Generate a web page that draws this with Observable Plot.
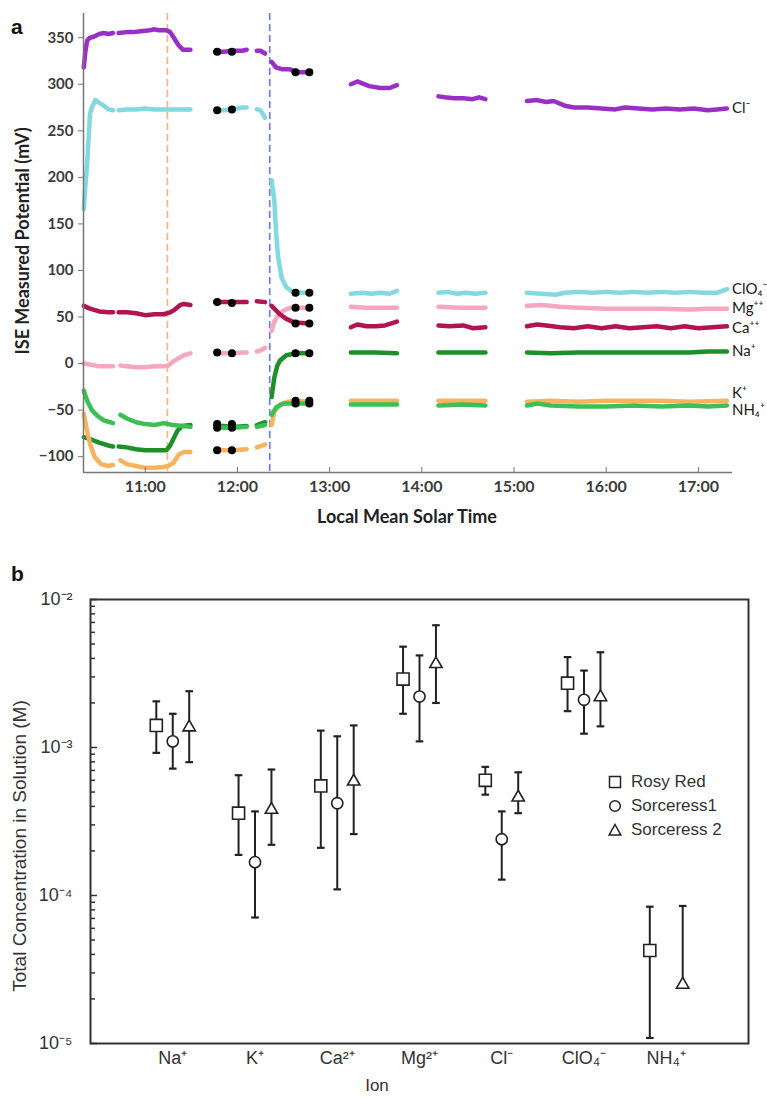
<!DOCTYPE html>
<html><head><meta charset="utf-8">
<script src="https://cdn.jsdelivr.net/npm/d3@7"></script>
<script src="https://cdn.jsdelivr.net/npm/@observablehq/plot@0.6"></script>
<style>
html,body{margin:0;padding:0;background:#fff;}
body{width:767px;height:1097px;position:relative;overflow:hidden;}
.abs{position:absolute;white-space:nowrap;}
.rot{transform:translate(-50%,-50%) rotate(-90deg);}
.ctr{transform:translate(-50%,-50%);}
.panel{font-family:Arial,"Liberation Sans",sans-serif;font-weight:bold;font-size:21px;color:#111;}
.ta{font-family:Lato,"Open Sans",sans-serif;font-weight:bold;font-size:18px;color:#222;}
.tb{font-family:"Liberation Sans",Arial,sans-serif;color:#333;}
.leg{font-family:"Liberation Sans",Arial,sans-serif;font-size:17px;color:#333;}
</style></head><body>
<div id="pa" class="abs" style="left:0;top:0"></div>
<div id="pb" class="abs" style="left:0;top:540px"></div>
<div class="abs panel" style="left:11px;top:15px">a</div>
<div class="abs panel" style="left:11px;top:562px">b</div>
<div class="abs ta rot" style="left:22px;top:241px">ISE Measured Potential (mV)</div>
<div class="abs ta ctr" style="left:407px;top:516px">Local Mean Solar Time</div>
<div class="abs tb rot" style="left:20px;top:846px;font-size:19px">Total Concentration in Solution (M)</div>
<div class="abs tb ctr" style="left:377px;top:1086px;font-size:17px">Ion</div>
<div id="legend" class="abs leg" style="left:608px;top:770px"></div>
<script>
// ---------------- Panel a data ----------------
const hourTicks = [11, 12, 13, 14, 15, 16, 17];
const hourLabels = ["11:00", "12:00", "13:00", "14:00", "15:00", "16:00", "17:00"];
const mvTicks = [-100, -50, 0, 50, 100, 150, 200, 250, 300, 350];
const timeDomain = [10.33, 17.37];
const mvDomain = [-117, 376];
const eventTimes = [11.24, 12.35];
const eventColors = ["#f7b38a", "#6f7fe0"];

const ionNamesA = ["Cl⁻", "ClO₄⁻", "Mg⁺⁺", "Ca⁺⁺", "Na⁺", "K⁺", "NH₄⁺"];
const ionColorsA = ["#9a2fc6", "#84d8e0", "#f6a7c0", "#b3134f", "#1f8f2a", "#f9b25f", "#3cbf55"];

// each series: [time (h), potential (mV)], null = data gap
const clSeries = [[10.333,318],[10.35,335],[10.37,347],[10.40,350],[10.44,351],[10.50,354],[10.55,355],[10.60,354],[10.65,355],null,
  [10.71,355],[10.80,356],[10.87,356],[10.95,357],[11.05,358],[11.09,359],[11.15,358],[11.23,358],[11.27,356],[11.31,350],[11.36,342],[11.41,337],[11.49,337],null,
  [11.757,335],[11.85,335],[11.95,336],[12.05,336],[12.10,337],null,
  [12.21,336],[12.25,336],[12.30,333],null,
  [12.37,324],[12.42,318],[12.49,316],[12.57,316],[12.64,313],[12.78,313],null,
  [13.23,300],[13.30,303],[13.43,298],[13.55,296],[13.65,296],[13.73,299],null,
  [14.18,287],[14.25,286],[14.35,285],[14.45,285],[14.55,284],[14.62,286],[14.69,284],null,
  [15.14,282],[15.25,283],[15.35,281],[15.43,282],[15.55,277],[15.65,275],[15.80,275],[15.95,274],[16.10,273],[16.20,275],[16.35,274],[16.50,273],[16.65,274],[16.80,273],[16.95,274],[17.10,272],[17.20,273],[17.31,274]];
const clo4Series = [[10.333,166],[10.35,190],[10.37,215],[10.39,250],[10.40,268],[10.42,275],[10.46,283],[10.50,280],[10.55,277],[10.60,273],[10.65,272],null,
  [10.71,272],[10.80,273],[10.90,273],[11.00,274],[11.10,273],[11.20,273],[11.30,273],[11.40,273],[11.49,273],null,
  [11.757,272],[11.85,272],[11.95,273],[12.05,275],[12.10,275],null,
  [12.21,273],[12.25,272],[12.30,264],null,
  [12.37,197],[12.40,175],[12.42,140],[12.44,115],[12.48,92],[12.53,82],[12.60,77],[12.70,76],[12.78,76],null,
  [13.23,75],[13.35,76],[13.45,75],[13.55,76],[13.65,75],[13.73,78],null,
  [14.18,76],[14.28,77],[14.38,75],[14.48,76],[14.58,75],[14.69,76],null,
  [15.14,76],[15.30,75],[15.45,74],[15.55,76],[15.70,77],[15.85,76],[16.00,77],[16.15,76],[16.30,77],[16.45,76],[16.60,77],[16.75,76],[16.90,77],[17.05,76],[17.20,76],[17.31,80]];
const mgSeries = [[10.333,0],[10.40,-1],[10.50,-3],[10.60,-3],[10.65,-3],null,
  [10.73,-2],[10.80,-3],[10.90,-4],[11.00,-4],[11.10,-3],[11.20,-3],[11.25,-2],[11.30,2],[11.35,5],[11.42,9],[11.49,11],null,
  [11.757,12],[11.85,11],[11.95,11],[12.05,12],[12.10,12],null,
  [12.21,13],[12.25,14],[12.30,17],null,
  [12.37,35],[12.40,45],[12.45,53],[12.50,57],[12.57,60],[12.65,60],[12.78,60],null,
  [13.23,61],[13.40,60],[13.55,60],[13.73,60],null,
  [14.18,61],[14.40,60],[14.69,60],null,
  [15.14,62],[15.30,63],[15.50,61],[15.70,60],[16.00,59],[16.30,59],[16.60,59],[16.90,58],[17.10,59],[17.31,59]];
const caSeries = [[10.333,62],[10.40,59],[10.50,56],[10.60,55],[10.65,55],null,
  [10.71,55],[10.80,55],[10.90,54],[11.00,52],[11.10,53],[11.20,53],[11.27,55],[11.32,58],[11.38,63],[11.42,64],[11.49,63],null,
  [11.757,66],[11.85,66],[11.95,66],[12.10,66],null,
  [12.21,67],[12.30,66],null,
  [12.37,62],[12.42,57],[12.46,53],[12.53,48],[12.62,44],[12.78,43],null,
  [13.23,39],[13.30,42],[13.40,40],[13.50,40],[13.60,41],[13.73,45],null,
  [14.18,41],[14.30,40],[14.45,41],[14.55,38],[14.69,39],null,
  [15.14,40],[15.25,42],[15.35,41],[15.50,39],[15.65,38],[15.80,40],[15.95,38],[16.10,40],[16.25,38],[16.40,39],[16.55,40],[16.70,38],[16.85,40],[17.00,38],[17.15,39],[17.31,40]];
const naSeries = [[10.333,-79],[10.40,-81],[10.50,-85],[10.60,-88],[10.65,-89],null,
  [10.71,-89],[10.80,-90],[10.90,-92],[11.00,-93],[11.10,-93],[11.23,-93],[11.27,-88],[11.31,-80],[11.35,-72],[11.40,-67],[11.49,-66],null,
  [11.757,-67],[11.85,-67],[11.95,-68],[12.10,-67],null,
  [12.21,-66],[12.30,-63],null,
  [12.37,-36],[12.40,-15],[12.43,-3],[12.46,3],[12.53,9],[12.64,11],[12.78,11],null,
  [13.23,12],[13.50,12],[13.73,11],null,
  [14.18,12],[14.45,12],[14.69,12],null,
  [15.14,12],[15.40,11],[15.70,12],[16.00,12],[16.30,12],[16.60,12],[16.90,12],[17.10,13],[17.31,13]];
const kSeries = [[10.333,-54],[10.36,-68],[10.40,-86],[10.45,-100],[10.52,-108],[10.60,-110],[10.65,-109],null,
  [10.73,-104],[10.80,-108],[10.90,-110],[11.00,-112],[11.10,-112],[11.20,-111],[11.25,-110],[11.31,-106],[11.36,-98],[11.42,-95],[11.49,-95],null,
  [11.757,-92],[11.85,-93],[11.95,-93],[12.10,-92],null,
  [12.21,-90],[12.30,-87],null,
  [12.37,-66],[12.40,-52],[12.46,-44],[12.55,-41],[12.64,-40],[12.78,-41],null,
  [13.23,-40],[13.50,-40],[13.73,-40],null,
  [14.18,-40],[14.45,-40],[14.69,-40],null,
  [15.14,-41],[15.40,-40],[15.70,-41],[16.00,-40],[16.30,-40],[16.60,-40],[16.90,-41],[17.31,-40]];
const nh4Series = [[10.333,-29],[10.37,-40],[10.42,-50],[10.48,-56],[10.55,-61],[10.62,-63],[10.65,-64],null,
  [10.73,-55],[10.80,-59],[10.90,-63],[11.00,-65],[11.10,-66],[11.20,-64],[11.30,-66],[11.40,-67],[11.49,-68],null,
  [11.757,-68],[11.85,-69],[11.95,-69],[12.10,-68],null,
  [12.21,-68],[12.30,-66],null,
  [12.37,-55],[12.42,-47],[12.50,-43],[12.64,-43],[12.78,-43],null,
  [13.23,-44],[13.50,-44],[13.73,-44],null,
  [14.18,-45],[14.45,-44],[14.69,-45],null,
  [15.14,-45],[15.25,-43],[15.40,-45],[15.70,-46],[16.00,-46],[16.30,-45],[16.60,-46],[16.90,-45],[17.10,-46],[17.31,-45]];

// calibration points (black dots)
const dotTimes = [11.78, 11.94, 12.63, 12.78];
const clDots = [335, 335, 313, 313];
const clo4Dots = [272, 273, 76, 76];
const mgDots = [12, 11, 60, 60];
const caDots = [66, 65, 43, 43];
const naDots = [-65, -65, 11, 11];
const kDots = [-93, -93, -40, -40];
const nh4Dots = [-69, -69, -43, -43];

// ---------------- Panel b data ----------------
const ionsB = ["Na⁺", "K⁺", "Ca²⁺", "Mg²⁺", "Cl⁻", "ClO₄⁻", "NH₄⁺"];
const samples = ["Rosy Red", "Sorceress1", "Sorceress 2"];
const rosyRed   = [1.41e-3, 3.6e-4, 5.5e-4, 2.9e-3, 6.0e-4, 2.72e-3, 4.25e-5];
const rosyRedLo = [9.2e-4, 1.88e-4, 2.1e-4, 1.69e-3, 4.8e-4, 1.76e-3, 1.09e-5];
const rosyRedHi = [2.05e-3, 6.5e-4, 1.3e-3, 4.8e-3, 7.4e-4, 4.08e-3, 8.4e-5];
const sorc1     = [1.10e-3, 1.68e-4, 4.2e-4, 2.21e-3, 2.4e-4, 2.10e-3, null];
const sorc1Lo   = [7.2e-4, 7.1e-5, 1.1e-4, 1.10e-3, 1.28e-4, 1.24e-3, null];
const sorc1Hi   = [1.69e-3, 3.7e-4, 1.19e-3, 4.19e-3, 3.7e-4, 3.31e-3, null];
const sorc2     = [1.37e-3, 3.8e-4, 5.9e-4, 3.67e-3, 4.6e-4, 2.19e-3, 2.5e-5];
const sorc2Lo   = [7.96e-4, 2.2e-4, 2.6e-4, 2.0e-3, 3.6e-4, 1.39e-3, 2.5e-5];
const sorc2Hi   = [2.4e-3, 7.1e-4, 1.41e-3, 6.7e-3, 6.8e-4, 4.4e-3, 8.5e-5];
const majorTicks = [1e-5, 1e-4, 1e-3, 1e-2];
const majorLabels = ["10⁻⁵", "10⁻⁴", "10⁻³", "10⁻²"];

// ---------------- build panel a ----------------
const seriesA = [clSeries, clo4Series, mgSeries, caSeries, naSeries, kSeries, nh4Series];
const dotsA = [clDots, clo4Dots, mgDots, caDots, naDots, kDots, nh4Dots];
const rowsA = [], dotRows = [], lastRows = [];
seriesA.forEach((s, i) => {
  let seg = 0, last = null;
  for (const p of s) {
    if (p === null) { seg++; continue; }
    rowsA.push({ion: ionNamesA[i], key: i + "-" + seg, color: ionColorsA[i], t: p[0], v: p[1]});
    last = p;
  }
  lastRows.push({ion: ionNamesA[i], t: last[0], v: last[1]});
  dotsA[i].forEach((v, j) => dotRows.push({t: dotTimes[j], v}));
});
const labelDy = {"K⁺": -8, "NH₄⁺": 5, "Ca⁺⁺": 2};

const plotA = Plot.plot({
  width: 767, height: 540,
  marginLeft: 83, marginRight: 35, marginTop: 13, marginBottom: 68,
  x: {domain: timeDomain},
  y: {domain: mvDomain},
  color: {type: "identity"},
  style: {fontFamily: "Lato, 'Open Sans', sans-serif", fontSize: "15px", color: "#404040", background: "white", overflow: "visible"},
  marks: [
    Plot.ruleX(eventTimes, {x: d => d, stroke: (d, i) => eventColors[i], strokeWidth: 1.7, strokeDasharray: "7,4"}),
    Plot.line(rowsA, {x: "t", y: "v", z: "key", stroke: "color", strokeWidth: 4.5, strokeLinecap: "round", strokeLinejoin: "round"}),
    Plot.dot(dotRows, {x: "t", y: "v", r: 4, fill: "#000"}),
    ...lastRows.map(d => Plot.text([d], {x: "t", y: "v", text: "ion", textAnchor: "start", dx: 5, dy: labelDy[d.ion] || 0, fill: "#1a1a1a", fontSize: 15, fontWeight: "normal"})),
    Plot.ruleX([timeDomain[0]], {stroke: "#777", strokeWidth: 1.5}),
    Plot.ruleY([mvDomain[0]], {stroke: "#777", strokeWidth: 1.5}),
    Plot.axisY({ticks: mvTicks, tickSize: 5, tickPadding: 5, stroke: "#777", label: null, fontWeight: "bold", fill: "#3c3c3c"}),
    Plot.axisX({ticks: hourTicks, tickSize: -5, tickPadding: 13, tickFormat: d => hourLabels[hourTicks.indexOf(d)], stroke: "#777", label: null, fontWeight: "bold", fill: "#3c3c3c", fontSize: 16})
  ]
});
document.getElementById("pa").appendChild(plotA);

// ---------------- build panel b ----------------
const valsB = [rosyRed, sorc1, sorc2], loB = [rosyRedLo, sorc1Lo, sorc2Lo], hiB = [rosyRedHi, sorc1Hi, sorc2Hi];
const offsets = [-0.2, 0, 0.2];
const rowsB = [];
ionsB.forEach((ion, i) => {
  samples.forEach((s, k) => {
    if (valsB[k][i] == null) return;
    rowsB.push({ion, sample: s, x: i + 1 + offsets[k], v: valsB[k][i], lo: loB[k][i], hi: hiB[k][i]});
  });
});
const capSymbol = {draw(ctx, size) { const w = Math.sqrt(size) / 2; ctx.moveTo(-w, 0); ctx.lineTo(w, 0); }};
const minorTicks = [];
for (const d of [1e-5, 1e-4, 1e-3]) for (let m = 2; m <= 9; m++) minorTicks.push(m * d);
const symbols = ["square", "circle", "triangle"];
const symR = [6.8, 5.6, 4.6];

const plotB = Plot.plot({
  width: 767, height: 557,
  marginLeft: 90, marginRight: 19, marginTop: 59, marginBottom: 54,
  x: {domain: [0, 8]},
  y: {type: "log", domain: [1e-5, 1e-2]},
  style: {fontFamily: "'Liberation Sans', Arial, sans-serif", fontSize: "18px", color: "#333", background: "white", overflow: "visible"},
  marks: [
    Plot.ruleX(rowsB, {x: "x", y1: "lo", y2: "hi", stroke: "#222", strokeWidth: 2}),
    Plot.dot(rowsB, {x: "x", y: "hi", symbol: capSymbol, r: 4.3, stroke: "#222", strokeWidth: 2.2, fill: "none"}),
    Plot.dot(rowsB, {x: "x", y: "lo", symbol: capSymbol, r: 4.3, stroke: "#222", strokeWidth: 2.2, fill: "none"}),
    ...samples.map((s, k) => Plot.dot(rowsB.filter(d => d.sample === s), {x: "x", y: "v", symbol: symbols[k], r: symR[k], fill: "white", stroke: "#222", strokeWidth: 1.6})),
    Plot.frame({stroke: "#333", strokeWidth: 2}),
    Plot.axisY({ticks: minorTicks, tickSize: -5, tickFormat: () => "", stroke: "#333", strokeWidth: 1.5, label: null}),
    Plot.axisY({ticks: majorTicks, tickSize: -7, tickPadding: 25, tickFormat: d => majorLabels[majorTicks.indexOf(d)], stroke: "#333", strokeWidth: 1.5, label: null, fontSize: 18}),
    Plot.axisX({ticks: [1, 2, 3, 4, 5, 6, 7], tickSize: 0, tickPadding: 8, tickFormat: d => ionsB[d - 1], label: null})
  ]
});
document.getElementById("pb").appendChild(plotB);

// legend
const leg = document.getElementById("legend");
const legShapes = [
  '<rect x="1.5" y="1.5" width="11" height="11" fill="white" stroke="#222" stroke-width="1.5"/>',
  '<circle cx="7" cy="7" r="5.3" fill="white" stroke="#222" stroke-width="1.5"/>',
  '<path d="M7,1.5 L12.8,12 L1.2,12 Z" fill="white" stroke="#222" stroke-width="1.5"/>'
];
leg.innerHTML = samples.map((s, k) =>
  `<div style="height:24px;display:flex;align-items:center"><svg width="14" height="14" style="margin-right:9px">${legShapes[k]}</svg>${s}</div>`
).join("");
</script>
</body></html>
